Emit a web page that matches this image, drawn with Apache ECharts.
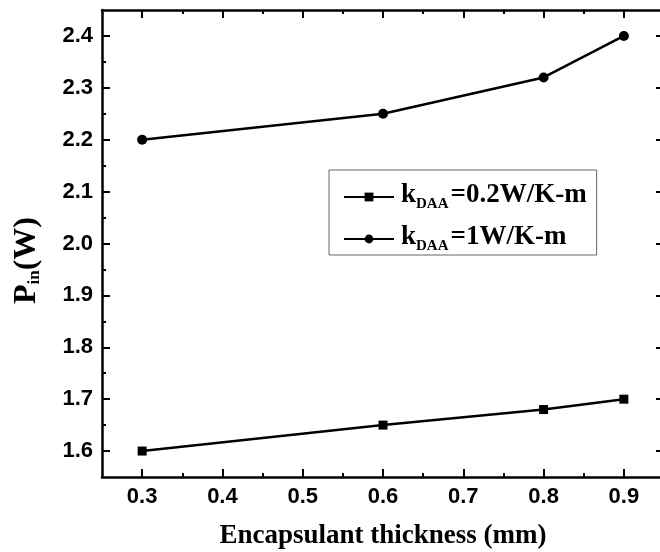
<!DOCTYPE html>
<html>
<head>
<meta charset="utf-8">
<script src="https://cdn.jsdelivr.net/npm/echarts@6/dist/echarts.min.js"></script>
<style>html,body{margin:0;padding:0;background:#fff;}#c{width:660px;height:552px;}</style>
</head>
<body>
<div id="c"></div>
<script>
const thickness = [0.3, 0.6, 0.8, 0.9];
const pinK02 = [1.60, 1.65, 1.68, 1.70];
const pinK1 = [2.20, 2.25, 2.32, 2.40];
const seriesNames = ['kDAA=0.2W/K-m', 'kDAA=1W/K-m'];
const xMajor = [0.3, 0.4, 0.5, 0.6, 0.7, 0.8, 0.9];
const xMinor = [0.35, 0.45, 0.55, 0.65, 0.75, 0.85];
const yMajor = [1.6, 1.7, 1.8, 1.9, 2.0, 2.1, 2.2, 2.3, 2.4];
const yMinor = [1.65, 1.75, 1.85, 1.95, 2.05, 2.15, 2.25, 2.35];

const serif = 'Liberation Serif';
const sans = 'Liberation Sans';
const chart = echarts.init(document.getElementById('c'), null, {renderer: 'canvas'});

function xAx(pos, ticks, len, labels, line) {
  return {
    type: 'value', position: pos, min: 0.25, max: 0.95,
    axisLine: {show: line, onZero: false, lineStyle: {color: '#000', width: 2.5}},
    axisTick: {show: true, inside: true, length: len, customValues: ticks, lineStyle: {color: '#000', width: 2}},
    axisLabel: labels ? {show: true, customValues: ticks, margin: 9, color: '#000', fontFamily: sans, fontWeight: 'bold', fontSize: 22, formatter: v => v.toFixed(1)} : {show: false},
    splitLine: {show: false}
  };
}
function yAx(pos, ticks, len, labels, line) {
  return {
    type: 'value', position: pos, min: 1.55, max: 2.45,
    axisLine: {show: line, onZero: false, lineStyle: {color: '#000', width: 2.5}},
    axisTick: {show: true, inside: true, length: len, customValues: ticks, lineStyle: {color: '#000', width: 2}},
    axisLabel: labels ? {show: true, customValues: ticks, margin: 9, color: '#000', fontFamily: sans, fontWeight: 'bold', fontSize: 22, formatter: v => v.toFixed(1)} : {show: false},
    splitLine: {show: false}
  };
}

const xAxes = [xAx('bottom', xMajor, 8, true, true), xAx('bottom', xMinor, 4, false, false), xAx('top', xMajor, 8, false, true), xAx('top', xMinor, 4, false, false)];
xAxes[0].name = 'Encapsulant thickness (mm)';
xAxes[0].nameLocation = 'middle';
xAxes[0].nameGap = 46;
xAxes[0].nameTextStyle = {fontFamily: serif, fontWeight: 'bold', fontSize: 27, color: '#000'};
const yAxes = [yAx('left', yMajor, 8, true, true), yAx('left', yMinor, 4, false, false), yAx('right', yMajor, 8, false, true), yAx('right', yMinor, 4, false, false)];
yAxes[0].name = '{a|P}{b|in}{a|(W)}';
yAxes[0].nameLocation = 'middle';
yAxes[0].nameRotate = 90;
yAxes[0].nameGap = 59;
yAxes[0].nameTextStyle = {color: '#000', padding: [0, 34, 0, 0], rich: {
  a: {fontFamily: serif, fontWeight: 'bold', fontSize: 32, color: '#000', lineHeight: 34, verticalAlign: 'bottom'},
  b: {fontFamily: serif, fontWeight: 'bold', fontSize: 17, color: '#000', lineHeight: 19, verticalAlign: 'bottom'}
}};

function legendFmt(name) {
  return '{a|k}{b|DAA}{a|' + name.slice(4) + '}';
}

chart.setOption({
  backgroundColor: '#fff',
  animation: false,
  grid: {left: 102, top: 10, right: -4, bottom: 75, containLabel: false, outerBoundsMode: 'none'},
  xAxis: xAxes,
  yAxis: yAxes,
  legend: {
    orient: 'vertical', left: 329, top: 170,
    padding: [5, 10, 1, 14],
    borderColor: '#666', borderWidth: 1,
    itemWidth: 50, itemHeight: 11, itemGap: 5,
    data: seriesNames,
    formatter: legendFmt,
    textStyle: {color: '#000', rich: {
      a: {fontFamily: serif, fontWeight: 'bold', fontSize: 27, color: '#000', lineHeight: 30, verticalAlign: 'top', padding: [0, 0, 0, 2]},
      b: {fontFamily: serif, fontWeight: 'bold', fontSize: 15, color: '#000', lineHeight: 14, verticalAlign: 'bottom', padding: [22, 0, 0, 0]}
    }}
  },
  series: [
    {name: seriesNames[0], type: 'line', symbol: 'rect', symbolSize: 9,
     data: thickness.map((x, i) => [x, pinK02[i]]),
     lineStyle: {color: '#000', width: 2.5}, itemStyle: {color: '#000'}},
    {name: seriesNames[1], type: 'line', symbol: 'circle', symbolSize: 10,
     data: thickness.map((x, i) => [x, pinK1[i]]),
     lineStyle: {color: '#000', width: 2.5}, itemStyle: {color: '#000'}}
  ]
});
</script>
</body>
</html>
